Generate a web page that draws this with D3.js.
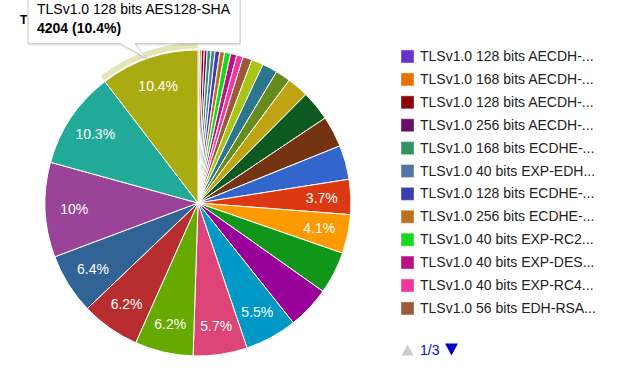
<!DOCTYPE html>
<html><head><meta charset="utf-8">
<script src="https://cdn.jsdelivr.net/npm/d3@7"></script>
<style>
body{margin:0;background:#fff}
svg{display:block;font-family:Arial,"Liberation Sans",sans-serif}
</style>
</head><body>
<svg id="chart" width="624" height="378"></svg>
<script>
// ---------- data ----------
const chartTitle = "TLS cipher suites";
const categories = [
  "TLSv1.0 128 bits AECDH-AES128-SHA",
  "TLSv1.0 168 bits AECDH-DES-CBC3-SHA",
  "TLSv1.0 128 bits AECDH-RC4-SHA",
  "TLSv1.0 256 bits AECDH-AES256-SHA",
  "TLSv1.0 168 bits ECDHE-RSA-DES-CBC3-SHA",
  "TLSv1.0 40 bits EXP-EDH-RSA-DES-CBC-SHA",
  "TLSv1.0 128 bits ECDHE-RSA-AES128-SHA",
  "TLSv1.0 256 bits ECDHE-RSA-AES256-SHA",
  "TLSv1.0 40 bits EXP-RC2-CBC-MD5",
  "TLSv1.0 40 bits EXP-DES-CBC-SHA",
  "TLSv1.0 40 bits EXP-RC4-MD5",
  "TLSv1.0 56 bits EDH-RSA-DES-CBC-SHA",
  "TLSv1.0 56 bits DES-CBC-SHA",
  "TLSv1.0 40 bits EXP-EDH-DSS-DES-CBC-SHA",
  "TLSv1.0 56 bits EDH-DSS-DES-CBC-SHA",
  "TLSv1.0 168 bits EDH-DSS-DES-CBC3-SHA",
  "TLSv1.0 128 bits DHE-DSS-AES128-SHA",
  "TLSv1.0 256 bits DHE-DSS-AES256-SHA",
  "TLSv1.0 128 bits DHE-RSA-CAMELLIA128-SHA",
  "TLSv1.0 256 bits DHE-RSA-CAMELLIA256-SHA",
  "TLSv1.0 128 bits CAMELLIA128-SHA",
  "TLSv1.0 256 bits CAMELLIA256-SHA",
  "TLSv1.0 128 bits SEED-SHA",
  "TLSv1.0 168 bits EDH-RSA-DES-CBC3-SHA",
  "TLSv1.0 128 bits DHE-RSA-AES128-SHA",
  "TLSv1.0 256 bits DHE-RSA-AES256-SHA",
  "TLSv1.0 128 bits RC4-MD5",
  "TLSv1.0 128 bits RC4-SHA",
  "TLSv1.0 168 bits DES-CBC3-SHA",
  "TLSv1.0 256 bits AES256-SHA",
  "TLSv1.0 128 bits AES128-SHA"
];
const counts = [
  60, 85, 120, 125, 160, 170, 200, 210, 255, 265, 275, 390, 505, 650, 640, 920,
  1280, 1330, 1455, 1496, 1657, 1810, 1820, 2223, 2304, 2490, 2506, 2587, 4042, 4164, 4204
];
const palette = [
  "#6633cc","#e67300","#8b0707","#651067","#329262","#5574a6","#3b3eac","#b77322",
  "#16d620","#b91383","#f4359e","#9c5935","#a9c413","#2a778d","#668d1c","#bea413",
  "#0c5922","#743411","#3366cc","#dc3912","#ff9900","#109618","#990099","#0099c6",
  "#dd4477","#66aa00","#b82e2e","#316395","#994499","#22aa99","#aaaa11"
];
const legendPageSize = 12;
const legendPageIndex = 0;
const hoveredCategory = "TLSv1.0 128 bits AES128-SHA";

// ---------- layout ----------
const svg = d3.select("#chart");
const cx = 198, cy = 203, R = 153;
const labelR = 0.81 * R;
const labelPad = 2.4;
const FONT = 14;

const data = categories.map((c, i) => ({ name: c, value: counts[i] }));
const total = d3.sum(counts);
const color = d3.scaleOrdinal().domain(categories).range(palette);
const pie = d3.pie().sort(null).value(d => d.value).startAngle(0).endAngle(2 * Math.PI);
const arcs = pie(data);
const arc = d3.arc().innerRadius(0).outerRadius(R);
const fmtPct = v => (Math.round(v / total * 1000) / 10) + "%";

// title (mostly hidden behind the tooltip, as in the reference)
svg.append("text").attr("x", 20).attr("y", 24)
  .attr("font-size", 12).attr("font-weight", "bold").attr("fill", "#000")
  .text(chartTitle);

const g = svg.append("g").attr("transform", `translate(${cx},${cy})`);

g.selectAll("path.slice").data(arcs).enter().append("path")
  .attr("class", "slice")
  .attr("d", arc)
  .attr("fill", d => color(d.data.name))
  .attr("stroke", "#fff").attr("stroke-width", 1);

// hover ring
const hov = arcs.find(a => a.data.name === hoveredCategory);
g.append("path")
  .attr("d", d3.arc().innerRadius(R + 1.5).outerRadius(R + 7)(hov))
  .attr("fill", color(hov.data.name)).attr("fill-opacity", 0.3);

// slice labels (only when they fit inside the wedge)
function fits(d, w, h) {
  const mid = (d.startAngle + d.endAngle) / 2;
  const px = Math.sin(mid) * labelR, py = -Math.cos(mid) * labelR;
  const hw = w / 2 + labelPad, hh = h / 2 + labelPad;
  for (const a of [d.startAngle, d.endAngle]) {
    const dist = Math.abs(px * Math.cos(a) + py * Math.sin(a));
    const ext = hw * Math.abs(Math.cos(a)) + hh * Math.abs(Math.sin(a));
    if (dist < ext) return false;
  }
  for (const sx of [-1, 1]) for (const sy of [-1, 1]) {
    if (Math.hypot(px + sx * w / 2, py + sy * h / 2) > R) return false;
  }
  return true;
}
arcs.forEach(d => {
  const mid = (d.startAngle + d.endAngle) / 2;
  const t = g.append("text")
    .attr("x", Math.sin(mid) * labelR)
    .attr("y", -Math.cos(mid) * labelR)
    .attr("dy", "0.36em")
    .attr("text-anchor", "middle")
    .attr("font-size", FONT).attr("fill", "#fff")
    .text(fmtPct(d.value));
  const w = t.node().getComputedTextLength();
  if (!fits(d, w, FONT)) t.remove();
});

// legend
const lx = 401, ly = 50, lstep = 22.9, textX = 420, maxW = 177;
const page = data.slice(legendPageIndex * legendPageSize, (legendPageIndex + 1) * legendPageSize);
const pages = Math.ceil(data.length / legendPageSize);
const leg = svg.append("g");
page.forEach((d, i) => {
  const y = ly + i * lstep;
  leg.append("rect").attr("x", lx + 0.5).attr("y", y + 0.5).attr("width", 12).attr("height", 12)
    .attr("fill", color(d.name)).attr("stroke", color(d.name)).attr("stroke-opacity", 0.6);
  const t = leg.append("text").attr("x", textX).attr("y", y + 11)
    .attr("font-size", FONT).attr("fill", "#222").text(d.name);
  if (t.node().getComputedTextLength() > maxW) {
    let s = d.name;
    while (s.length > 1) {
      s = s.slice(0, -1);
      t.text(s + "...");
      if (t.node().getComputedTextLength() <= maxW) break;
    }
  }
});

// pager
const py0 = 344;
leg.append("path").attr("d", `M401.5,${py0 + 11.5} L413.5,${py0 + 11.5} L407.5,${py0 + 0.5} Z`).attr("fill", "#cccccc");
leg.append("text").attr("x", 420).attr("y", py0 + 10.5).attr("font-size", FONT).attr("fill", "#0011cc")
  .text(`${legendPageIndex + 1}/${pages}`);
leg.append("path").attr("d", `M445,${py0 - 0.5} L458,${py0 - 0.5} L451.5,${py0 + 11.5} Z`).attr("fill", "#0000cc");

// tooltip
const tip = svg.append("g");
const tipPath = "M28,-6 L240,-6 L240,43.5 L135,43.5 L146.5,58.5 L120,43.5 L28,43.5 Z";
tip.append("path").attr("d", tipPath).attr("transform", "translate(1,2)")
  .attr("fill", "#000").attr("fill-opacity", 0.1);
tip.append("path").attr("d", tipPath).attr("fill", "#fff").attr("stroke", "#cccccc").attr("stroke-width", 1);
tip.append("text").attr("x", 37).attr("y", 14).attr("font-size", FONT).attr("fill", "#000")
  .text(hov.data.name);
tip.append("text").attr("x", 37).attr("y", 33).attr("font-size", FONT).attr("font-weight", "bold").attr("fill", "#000")
  .text(`${hov.data.value} (${fmtPct(hov.data.value)})`);
</script>
</body></html>
